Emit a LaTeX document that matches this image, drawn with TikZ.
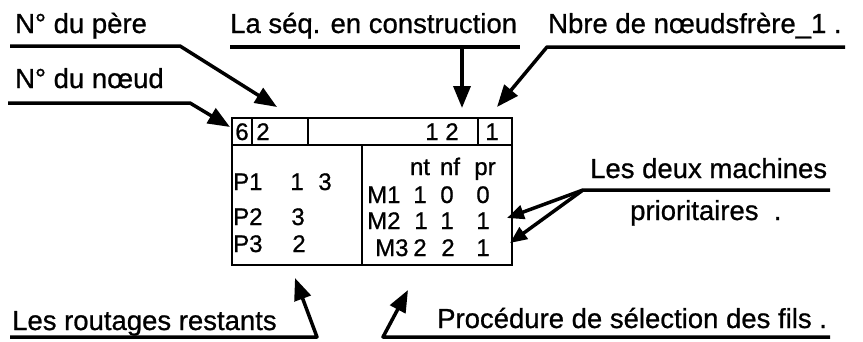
\documentclass[tikz,border=0pt]{standalone}
\usepackage{fontspec}
\setmainfont{Liberation Sans}
\usetikzlibrary{positioning,arrows.meta}
\tikzset{>={Triangle[length=22pt,width=17pt]}}

\begin{document}
\begin{tikzpicture}[x=1pt,y=-1pt,
  lbl/.style={anchor=base west,inner sep=0pt,font=\fontsize{27.5}{30}\selectfont\addfontfeatures{FakeBold=0.8}},
  val/.style={anchor=base,inner sep=0pt,font=\fontsize{24}{26}\selectfont\addfontfeatures{FakeBold=0.8}},
  lead/.style={line width=3.5pt,line join=round},
  cell/.style={line width=2.8pt}]
\useasboundingbox (0,0) rectangle (863,341);
% the node record
\coordinate (nw) at (232,118);
\coordinate (se) at (512,265);
\draw[cell] (nw) rectangle (se);
\draw[cell] (232,145) -- (512,145);
\draw[cell] (252,118) -- (252,145);
\draw[cell] (308,118) -- (308,145);
\draw[cell] (478,118) -- (478,145);
\draw[cell] (362,145) -- (362,265);
\node[val] (num) at (242,140) {6};
\node[val] (per) at (263,140) {2};
\node[val] (seq) at (442,140) {1 2};
\node[val] (fr) at (492,140) {1};
\node[val,anchor=base west] (p1) at (233,190) {P1};
\node[val] (p1a) at (297,190) {1};
\node[val] (p1b) at (325,190) {3};
\node[val,anchor=base west] (p2) at (233,225) {P2};
\node[val] (p2a) at (298,225) {3};
\node[val,anchor=base west] (p3) at (233,252) {P3};
\node[val] (p3a) at (299,252) {2};
\node[val] (nt) at (420,175) {nt};
\node[val] (nf) at (450,175) {nf};
\node[val] (pr) at (485,175) {pr};
\node[val,anchor=base west] (m1) at (367,203) {M1};
\node[val] (m1a) at (420,203) {1};
\node[val] (m1b) at (447,203) {0};
\node[val] (m1c) at (483,203) {0};
\node[val,anchor=base west] (m2) at (367,229) {M2};
\node[val] (m2a) at (421,229) {1};
\node[val] (m2b) at (447,229) {1};
\node[val] (m2c) at (483,229) {1};
\node[val,anchor=base west] (m3) at (375,256) {M3};
\node[val] (m3a) at (420,256) {2};
\node[val] (m3b) at (448,256) {2};
\node[val] (m3c) at (483,256) {1};
% labels
\node[lbl] (lpere) at (15,33) {N° du père};
\node[lbl] (lnoeud) at (15,88) {N° du nœud};
\node[lbl] (lseq) at (230,33) {La séq. en construction};
\node[lbl] (lfr) at (548,33) {Nbre de nœudsfrère\_1 .};
\node[lbl] (ldeux) at (590,178) {Les deux machines};
\node[lbl] (lprio) at (630,220) {prioritaires\ \ .};
\node[lbl] (lrout) at (12,330) {Les routages restants};
\node[lbl] (lproc) at (437,328) {Procédure de sélection des fils .};
% leaders
\coordinate (pere-a) at (10,46);
\coordinate (pere-k) at (180,46);
\coordinate (pere-t) at (277,107);
\coordinate (noeud-a) at (8,103);
\coordinate (noeud-k) at (190,103);
\coordinate (noeud-t) at (230,127);
\coordinate (seq-a) at (230,47);
\coordinate (seq-b) at (520,47);
\coordinate (seq-k) at (462,47);
\coordinate (seq-t) at (462,108);
\coordinate (fr-a) at (845,47);
\coordinate (fr-k) at (547,47);
\coordinate (fr-t) at (497,107);
\coordinate (deux-a) at (830,190);
\coordinate (deux-k) at (583,190);
\coordinate (deux-t1) at (507,218);
\coordinate (deux-t2) at (510,243);
\coordinate (rout-a) at (10,337);
\coordinate (rout-k) at (317,337);
\coordinate (rout-t) at (295,278);
\coordinate (proc-a) at (830,337);
\coordinate (proc-k) at (383,337);
\coordinate (proc-t) at (408,290);
\draw[lead,->] (pere-a) -- (pere-k) -- (pere-t);
\draw[lead,->] (noeud-a) -- (noeud-k) -- (noeud-t);
\draw[lead] (seq-a) -- (seq-b);
\draw[lead,->] (seq-k) -- (seq-t);
\draw[lead,->] (fr-a) -- (fr-k) -- (fr-t);
\draw[lead,-{Triangle[length=17pt,width=14pt]}] (deux-a) -- (deux-k) -- (deux-t1);
\draw[lead,-{Triangle[length=17pt,width=14pt]}] (deux-k) -- (deux-t2);
\draw[lead,->] (rout-a) -- (rout-k) -- (rout-t);
\draw[lead,->] (proc-a) -- (proc-k) -- (proc-t);
\end{tikzpicture}
\end{document}
